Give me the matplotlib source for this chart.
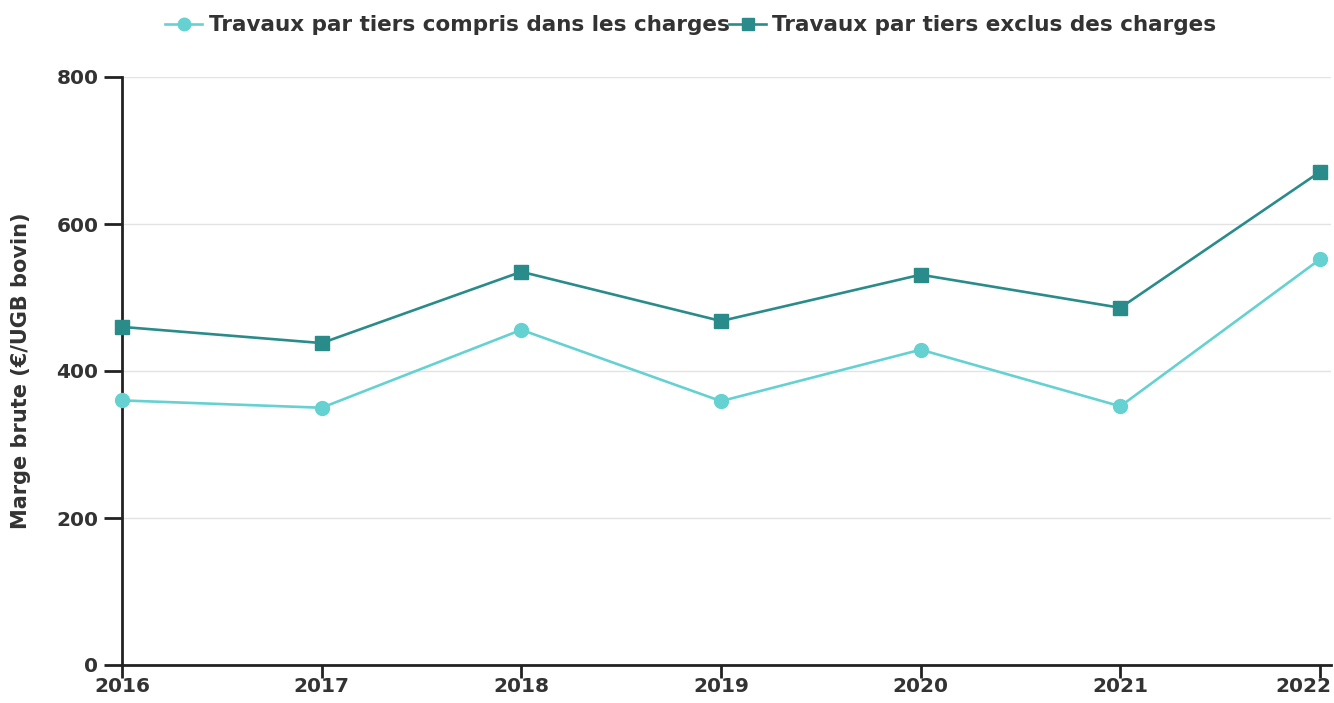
import matplotlib
matplotlib.use("Agg")
import matplotlib.pyplot as plt
from matplotlib.transforms import ScaledTranslation

# Données
annees = [2016, 2017, 2018, 2019, 2020, 2021, 2022]
compris_charges = [360, 350, 456, 359, 429, 352, 552]
exclus_charges = [460, 438, 535, 468, 531, 486, 671]
labels = ["Travaux par tiers compris dans les charges",
          "Travaux par tiers exclus des charges"]
yticks = [0, 200, 400, 600, 800]

TXT = "#333333"
plt.rcParams['font.family'] = ['DejaVu Sans']

fig = plt.figure(figsize=(13.34, 7.03), dpi=100)
ax = fig.add_axes([122 / 1334, 1 - 665 / 703, (1331 - 122) / 1334, (665 - 77) / 703])

ax.plot(annees, compris_charges, color="#66d1d1", lw=1.9, marker="o", ms=10,
        label=labels[0], zorder=3, clip_on=False)
ax.plot(annees, exclus_charges, color="#2a8c8a", lw=1.9, marker="s", ms=10,
        label=labels[1], zorder=3, clip_on=False)

ax.set_xlim(2016, 2022.055)
ax.set_ylim(0, 800)
ax.set_xticks(annees)
ax.set_yticks(yticks)
ax.grid(axis="y", color="#e3e3e3", lw=1)
ax.set_axisbelow(True)

for s in ["top", "right"]:
    ax.spines[s].set_visible(False)
for s in ["left", "bottom"]:
    ax.spines[s].set_color("#222222")
    ax.spines[s].set_linewidth(2)

ax.tick_params(axis="y", length=13, width=2, color="#222222", labelsize=14.5,
               labelcolor=TXT, pad=4)
ax.tick_params(axis="x", length=9, width=2, color="#222222", labelsize=14.5,
               labelcolor=TXT, pad=0)
for lab in ax.get_xticklabels() + ax.get_yticklabels():
    lab.set_fontweight("bold")

# dernier label décalé pour rester dans la figure
last = ax.get_xticklabels()[-1]
last.set_horizontalalignment("right")
last.set_transform(last.get_transform() + ScaledTranslation(0.11, 0, fig.dpi_scale_trans))

ax.set_ylabel("Marge brute (€/UGB bovin)", fontsize=15, fontweight="bold",
              color=TXT, labelpad=18)

leg = fig.legend(loc="upper center", bbox_to_anchor=(0.518, 1.006), ncol=2,
                 frameon=False, prop={"weight": "bold", "size": 15.5},
                 handlelength=1.7, handletextpad=0.3, columnspacing=0.0,
                 markerscale=0.9)
for t in leg.get_texts():
    t.set_color(TXT)

fig.savefig("out.png", dpi=100)
